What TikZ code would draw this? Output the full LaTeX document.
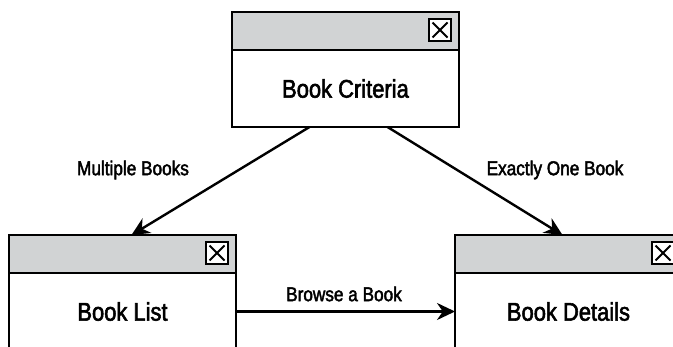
\documentclass[tikz,border=0pt]{standalone}
\usepackage{fontspec}
\setmainfont{Liberation Sans}[FakeStretch=0.86,FakeBold=2.2]
\usepackage{xcolor}
\usetikzlibrary{arrows.meta,calc,positioning}
\definecolor{hdrgray}{RGB}{209,211,212}

\tikzset{
  winhead/.style={draw,line width=2.2pt,fill=hdrgray,minimum width=227pt,minimum height=38pt,inner sep=0pt,outer sep=0pt},
  winbody/.style={draw,line width=2.2pt,fill=white,minimum width=227pt,minimum height=77pt,inner sep=0pt,outer sep=0pt,font=\fontsize{25.5}{30}\selectfont},
  closebtn/.style={draw,line width=1.9pt,fill=white,minimum size=22pt,inner sep=0pt,outer sep=0pt,anchor=north east,
    path picture={\draw[line width=1.8pt] ([shift={(3.5pt,3.5pt)}]path picture bounding box.south west) -- ([shift={(-3.5pt,-3.5pt)}]path picture bounding box.north east)
      ([shift={(3.5pt,-3.5pt)}]path picture bounding box.north west) -- ([shift={(-3.5pt,3.5pt)}]path picture bounding box.south east);}},
  lbl/.style={font=\fontsize{20}{24}\selectfont,inner sep=0pt},
  link/.style={-{Stealth[length=18pt,width=17pt]},line width=2.4pt}
}

\begin{document}
\begin{tikzpicture}[x=1pt,y=1pt]
\useasboundingbox (0,0) rectangle (673,346);
\clip (0,0) rectangle (673,346);
% windows
\node[winhead,anchor=north west] (critH) at (232,334) {};
\node[winbody,below=0pt of critH] (crit) {Book Criteria};
\node[closebtn] (critX) at ([shift={(-8pt,-7pt)}]critH.north east) {};
\node[winhead,anchor=north west] (listH) at (9,111) {};
\node[winbody,below=0pt of listH] (list) {Book List};
\node[closebtn] (listX) at ([shift={(-8pt,-7pt)}]listH.north east) {};
\node[winhead,anchor=north west] (detH) at (455,111) {};
\node[winbody,below=0pt of detH] (det) {Book Details};
\node[closebtn] (detX) at ([shift={(-8pt,-7pt)}]detH.north east) {};
% connectors
\draw[link] ([xshift=-36pt]crit.south) -- ([xshift=9pt]listH.north);
\draw[link] ([xshift=42pt]crit.south) -- ([xshift=-6pt]detH.north);
\draw[link] (list.east) -- (det.west);
% labels
\node[lbl] (lblMulti) at (133,176) {Multiple Books};
\node[lbl] (lblOne) at (555,176) {Exactly One Book};
\node[lbl] (lblBrowse) at (344,52) {Browse a Book};
\end{tikzpicture}
\end{document}
